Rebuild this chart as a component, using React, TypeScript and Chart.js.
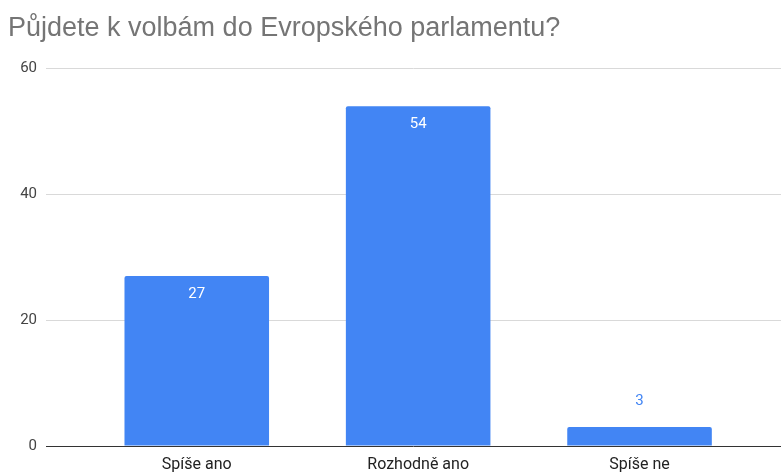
import React, { useEffect, useRef } from "react";
import { Chart, registerables } from "chart.js";

Chart.register(...registerables);

const titleText = "Půjdete k volbám do Evropského parlamentu?";
const categories = ["Spíše ano", "Rozhodně ano", "Spíše ne"];
const values = [27, 54, 3];
const yTicks = [0, 20, 40, 60];

const BAR_COLOR = "#4285F4";

const dataLabelPlugin = {
  id: "dataLabels",
  afterDatasetsDraw(chart: any) {
    const ctx = chart.ctx;
    const meta = chart.getDatasetMeta(0);
    ctx.save();
    ctx.font = "15px Roboto";
    ctx.textAlign = "center";
    ctx.textBaseline = "middle";
    meta.data.forEach((el: any, i: number) => {
      const h = el.base - el.y;
      const label = String(values[i]);
      if (h > 40) {
        ctx.fillStyle = "#ffffff";
        ctx.fillText(label, el.x, el.y + 18);
      } else {
        ctx.fillStyle = BAR_COLOR;
        ctx.fillText(label, el.x, el.y - 26);
      }
    });
    ctx.restore();
  },
};

export default function App() {
  const ref = useRef<HTMLCanvasElement | null>(null);
  useEffect(() => {
    if (!ref.current) return;
    const chart = new Chart(ref.current, {
      type: "bar",
      data: {
        datasets: [
          {
            data: values.map((v, i) => ({ x: i, y: v })),
            backgroundColor: BAR_COLOR,
            borderRadius: { topLeft: 2, topRight: 2, bottomLeft: 0, bottomRight: 0 },
            borderSkipped: "bottom",
            categoryPercentage: 1,
            barPercentage: 0.653,
          },
        ],
      },
      options: {
        responsive: false,
        animation: false,
        layout: { padding: { left: 8, right: 0, top: 0, bottom: 0 } },
        plugins: {
          legend: { display: false },
          tooltip: { enabled: false },
          title: {
            display: true,
            text: titleText,
            align: "start",
            color: "#757575",
            font: { family: "'Liberation Sans', Arial", size: 27, weight: "normal" },
            padding: { top: 12, bottom: 24 },
          },
        },
        scales: {
          x: {
            type: "linear",
            offset: false,
            min: -0.681,
            max: 2.639,
            grid: { display: false, drawTicks: false },
            border: { display: false },
            afterBuildTicks: (s: any) => {
              s.ticks = categories.map((_, i) => ({ value: i }));
            },
            afterFit: (s: any) => {
              s.height = 27;
            },
            ticks: {
              autoSkip: false,
              maxRotation: 0,
              padding: 9,
              color: "#222222",
              font: { family: "Roboto", size: 16 },
              callback: (v: any) => categories[v as number] ?? "",
            },
          },
          y: {
            min: 0,
            max: 60,
            afterBuildTicks: (s: any) => {
              s.ticks = yTicks.map((v) => ({ value: v }));
            },
            afterFit: (s: any) => {
              s.width = 38;
            },
            border: { display: false },
            grid: {
              drawTicks: false,
              color: (c: any) => (c.tick && c.tick.value === 0 ? "#333333" : "#d9d9d9"),
              lineWidth: 1,
            },
            ticks: {
              padding: 9,
              color: "#444444",
              font: { family: "Roboto", size: 15 },
            },
          },
        },
      },
      plugins: [dataLabelPlugin],
    });
    return () => chart.destroy();
  }, []);
  return (
    <div style={{ position: "fixed", left: 0, top: 0, width: 781, height: 473, background: "#fff" }}>
      <canvas ref={ref} width={781} height={473} />
    </div>
  );
}
